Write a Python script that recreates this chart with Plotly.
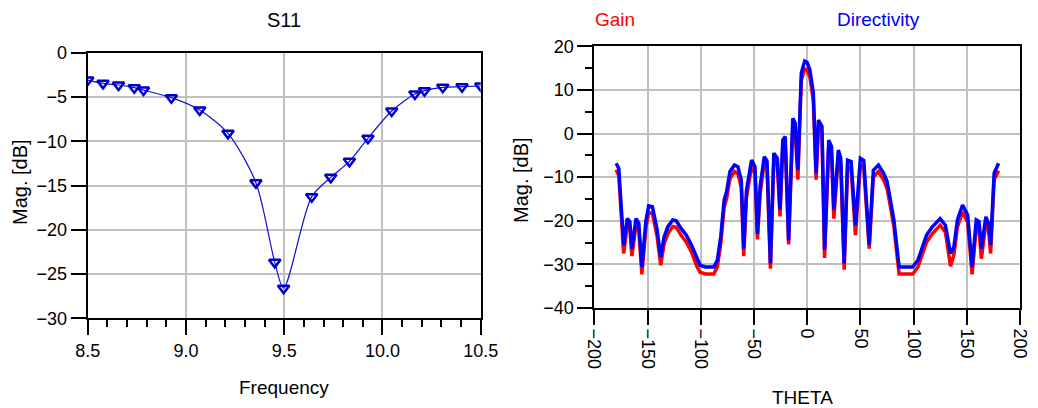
import plotly.graph_objects as go

# ---------------- data ----------------
s11_freq = [8.5, 8.578, 8.657, 8.737, 8.784, 8.926, 9.070, 9.214, 9.356, 9.452, 9.497,
            9.640, 9.737, 9.832, 9.926, 10.047, 10.165, 10.214, 10.307, 10.405, 10.5]
s11_db = [-3.09, -3.46, -3.65, -3.95, -4.22, -5.08, -6.47, -9.11, -14.68, -23.68, -26.6,
          -16.26, -14.08, -12.27, -9.67, -6.59, -4.67, -4.29, -3.91, -3.84, -3.76]

theta = [-179.5, -177.0, -172.4, -169.0, -166.6, -164.7, -160.8, -158.2, -155.3, -151.5,
         -148.9, -145.4, -141.0, -137.6, -134.4, -131.0, -126.3, -123.0, -118.3, -113.5,
         -108.6, -103.8, -100.6, -95.7, -87.7, -84.4, -81.2, -78.0, -75.7, -72.5,
         -68.3, -65.1, -61.9, -59.6, -57.0, -52.2, -49.0, -46.7, -44.2, -40.3,
         -37.7, -34.5, -31.3, -28.0, -25.5, -22.9, -20.6, -17.4, -13.5, -11.3,
         -8.7, -5.5, -2.3, 0.0, 2.6, 5.8, 8.4, 10.6, 13.9, 16.4,
         20.3, 22.9, 25.1, 29.3, 31.6, 34.8, 38.0, 41.3, 45.4, 50.0,
         53.2, 58.3, 62.2, 67.0, 71.9, 75.1, 78.3, 81.5, 86.4, 99.3,
         104.1, 107.3, 112.2, 117.6, 125.0, 129.9, 134.7, 137.9, 141.2, 146.0,
         150.8, 155.0, 158.9, 161.5, 163.7, 167.9, 170.5, 172.4, 175.7, 179.9]

directivity = [-6.8, -8.0, -25.6, -19.5, -20.2, -26.4, -19.5, -20.6, -30.6, -20.0,
               -16.6, -16.8, -22.0, -28.3, -23.7, -21.4, -19.8, -20.0, -21.8, -23.3,
               -25.6, -28.7, -30.2, -30.6, -30.6, -29.0, -23.7, -15.3, -13.3, -8.7,
               -7.2, -7.6, -10.7, -26.4, -13.0, -6.1, -7.6, -23.0, -12.2, -5.3,
               -6.3, -29.8, -4.5, -5.7, -17.5, -1.5, -0.7, -24.5, 3.5, 2.4,
               -8.3, 13.9, 16.6, 16.3, 14.6, 9.3, -9.1, 3.1, 1.6, -26.7,
               -1.5, -3.0, -17.5, -3.8, -5.7, -29.8, -6.1, -6.4, -21.0, -5.7,
               -6.2, -25.5, -8.4, -7.2, -9.1, -11.0, -15.2, -19.8, -30.6, -30.6,
               -29.0, -26.7, -23.3, -21.4, -19.5, -21.0, -27.5, -26.0, -19.8, -16.4,
               -18.7, -30.6, -19.8, -20.2, -26.4, -19.1, -20.6, -25.6, -9.1, -6.8]

gain = [-8.3, -9.6, -27.5, -21.0, -21.8, -28.1, -21.0, -22.2, -32.3, -21.5,
        -18.1, -18.3, -23.6, -30.2, -25.3, -23.0, -21.3, -21.5, -23.4, -24.9,
        -27.2, -30.4, -31.8, -32.2, -32.2, -30.6, -25.3, -16.9, -14.9, -10.3,
        -8.7, -9.2, -12.3, -28.1, -14.6, -7.6, -9.2, -24.3, -13.8, -6.8,
        -7.9, -31.0, -6.0, -7.3, -19.0, -3.0, -2.2, -25.4, 2.0, 0.8,
        -10.6, 12.2, 14.8, 14.6, 12.9, 7.6, -10.6, 1.6, 0.1, -28.5,
        -3.0, -4.6, -19.5, -5.3, -7.3, -31.2, -7.6, -8.0, -23.3, -7.2,
        -7.8, -26.4, -10.0, -8.7, -10.7, -12.6, -16.8, -21.4, -32.2, -32.2,
        -30.6, -28.3, -24.9, -23.0, -21.0, -22.6, -30.4, -27.8, -21.4, -18.0,
        -20.3, -32.3, -21.4, -21.8, -28.7, -20.7, -22.2, -27.5, -10.6, -8.5]

left_xticks = [8.5, 9.0, 9.5, 10.0, 10.5]
left_xticklabels = ["8.5", "9.0", "9.5", "10.0", "10.5"]

# ---------------- figure ----------------
W, H = 1038, 408
FONT = "Liberation Sans, Arial, sans-serif"

fig = go.Figure()

fig.add_trace(go.Scatter(
    x=s11_freq, y=s11_db, mode="lines+markers",
    line=dict(color="#1010d8", width=1.2, shape="spline", smoothing=0.8),
    marker=dict(symbol="triangle-down-open", size=10, color="#0000cc",
                line=dict(width=2.5, color="#0000cc")),
    xaxis="x", yaxis="y", showlegend=False))

fig.add_trace(go.Scatter(
    x=theta, y=gain, mode="lines",
    line=dict(color="#ff0000", width=3.5),
    xaxis="x2", yaxis="y2", showlegend=False))
fig.add_trace(go.Scatter(
    x=theta, y=directivity, mode="lines",
    line=dict(color="#0000ff", width=3.5),
    xaxis="x2", yaxis="y2", showlegend=False))

def px_x(p):
    return p / W

def px_y(p):
    return 1 - p / H

grid = dict(showgrid=True, gridcolor="#c0c0c0", gridwidth=1.5, zeroline=False,
            showline=True, linecolor="black", linewidth=2, mirror=True,
            ticks="outside", ticklen=15, tickwidth=2, tickcolor="black",
            automargin=False,
            tickfont=dict(family=FONT, size=18, color="black"))

fig.update_layout(
    width=W, height=H, autosize=False,
    margin=dict(l=0, r=0, t=0, b=0, pad=0),
    paper_bgcolor="white", plot_bgcolor="white",
    font=dict(family=FONT, color="black"),
    xaxis=dict(domain=[px_x(87.7), px_x(480.7)], range=[8.5, 10.5],
               tickvals=left_xticks, ticktext=left_xticklabels, anchor="y",
               minor=dict(dtick=0.1, tick0=8.5, ticks="outside", ticklen=7,
                          tickwidth=2, tickcolor="black", showgrid=False),
               **grid),
    yaxis=dict(domain=[px_y(318.3), px_y(52.7)], range=[-30, 0],
               dtick=5, tick0=0, anchor="x", **grid),
    xaxis2=dict(domain=[px_x(594.3), px_x(1020.0)], range=[-200, 200],
                dtick=50, tick0=0, tickangle=90, anchor="y2", **grid),
    yaxis2=dict(domain=[px_y(308.0), px_y(46.3)], range=[-40, 20],
                dtick=10, tick0=0, anchor="x2",
                minor=dict(dtick=5, ticks="outside", ticklen=7, tickwidth=2,
                           tickcolor="black", showgrid=False),
                **grid),
)

def ann(text, x, y, size, color="black", angle=0):
    fig.add_annotation(text=text, x=px_x(x), y=px_y(y), xref="paper", yref="paper",
                       showarrow=False, textangle=angle, xanchor="center", yanchor="middle",
                       font=dict(family=FONT, size=size, color=color))

ann("S11", 284, 20, 20)
ann("Frequency", 284, 387, 19)
ann("Mag. [dB]", 20, 182, 20, angle=-90)
ann("Gain", 615, 19, 19, color="#ff0000")
ann("Directivity", 878, 19, 19, color="#0000ff")
ann("Mag. [dB]", 521, 180, 20, angle=-90)
ann("THETA", 802, 397, 19)

fig.write_html("out.html",
               config={"displayModeBar": False},
               post_script="document.body.style.margin='0';document.body.style.overflow='hidden';")
